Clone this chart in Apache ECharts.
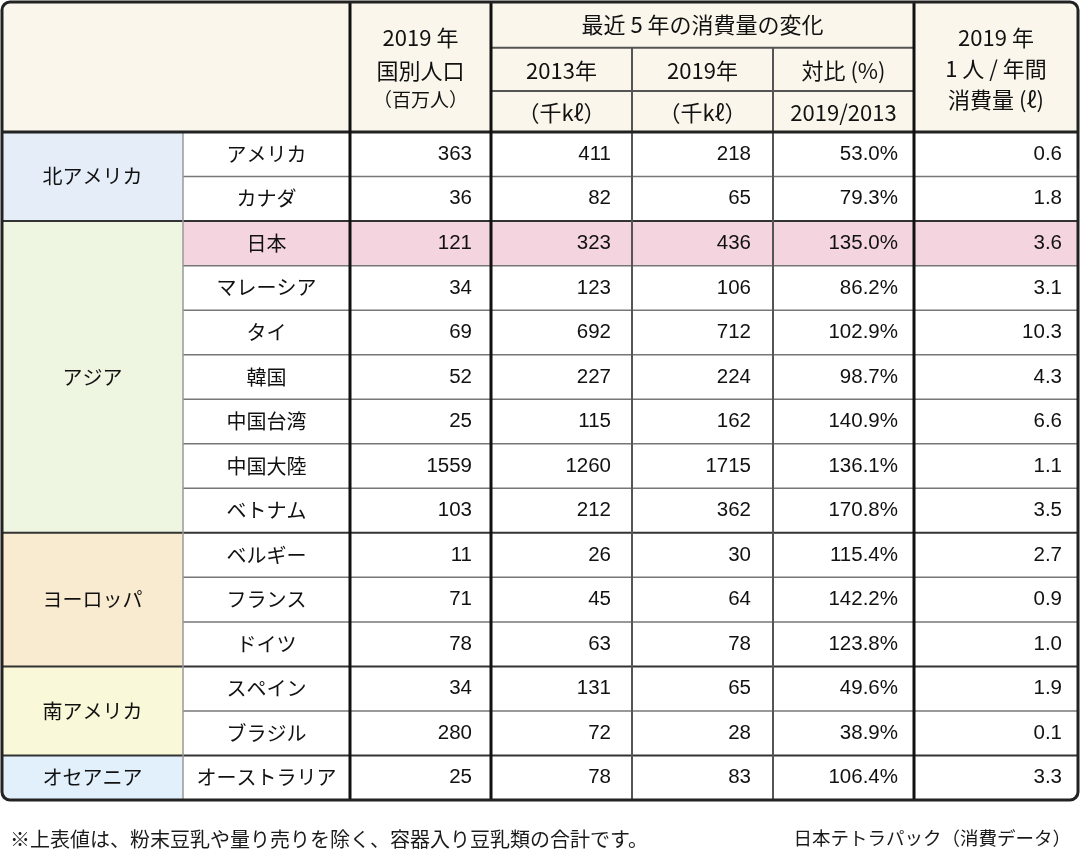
<!DOCTYPE html>
<html>
<head>
<meta charset="utf-8">
<script src="https://cdn.jsdelivr.net/npm/echarts@6/dist/echarts.min.js"></script>
<style>
html, body { margin: 0; background: #fff; }
#chart { width: 1080px; height: 856px; }
</style>
</head>
<body>
<div id="chart"></div>
<script>
// data
const regions = ['北アメリカ', 'アジア', 'ヨーロッパ', '南アメリカ', 'オセアニア']
const regionCounts = [2, 7, 3, 2, 1]
const countries = ['アメリカ', 'カナダ', '日本', 'マレーシア', 'タイ', '韓国', '中国台湾', '中国大陸', 'ベトナム', 'ベルギー', 'フランス', 'ドイツ', 'スペイン', 'ブラジル', 'オーストラリア']
const population = [363, 36, 121, 34, 69, 52, 25, 1559, 103, 11, 71, 78, 34, 280, 25]
const vol2013 = [411, 82, 323, 123, 692, 227, 115, 1260, 212, 26, 45, 63, 131, 72, 78]
const vol2019 = [218, 65, 436, 106, 712, 224, 162, 1715, 362, 30, 64, 78, 65, 28, 83]
const ratio = [53.0, 79.3, 135.0, 86.2, 102.9, 98.7, 140.9, 136.1, 170.8, 115.4, 142.2, 123.8, 49.6, 38.9, 106.4]
const perCapita = [0.6, 1.8, 3.6, 3.1, 10.3, 4.3, 6.6, 1.1, 3.5, 2.7, 0.9, 1.0, 1.9, 0.1, 3.3]
const highlight = '日本'
const headPop = ['2019 年', '国別人口', '（百万人）']
const headChange = '最近 5 年の消費量の変化'
const headYears = ['2013年', '2019年', '対比 (%)']
const headUnits = ['（千kℓ）', '（千kℓ）', '2019/2013']
const headPer = ['2019 年', '1 人 / 年間', '消費量 (ℓ)']
const noteLeft = '※上表値は、粉末豆乳や量り売りを除く、容器入り豆乳類の合計です。'
const noteRight = '日本テトラパック（消費データ）'

// layout / style
const colEdges = [0, 181, 348, 489, 630, 771, 912, 1076]
const headEdges = [0, 1.03, 2.0, 2.92]
const H = headEdges[3]
const yMax = H + countries.length
const regionColors = ['#e5edf9', '#eef5e1', '#f9ebcf', '#f9f8d9', '#e1f0fb']
const headFill = '#faf6eb'
const pink = '#f4d4df'
const jp = '"Noto Sans CJK JP", sans-serif'
const num = '"Liberation Sans", Arial, sans-serif'
const numPad = [19, 21, 22, 16, 16]

const cells = []
const addCell = (x0, y0, x1, y1, fill, lines, align, pad) =>
	cells.push({ x0, y0, x1, y1, fill, lines, align: align || 'center', pad: pad || 0 })
const L = (text, size, dy, font) => ({ text, size, dy, font: font || jp })

// header
addCell(colEdges[0], 0, colEdges[2], H, headFill, [])
addCell(colEdges[2], 0, colEdges[3], H, headFill, [L(headPop[0], 22, -29), L(headPop[1], 22, 4), L(headPop[2], 19, 33)])
addCell(colEdges[3], headEdges[0], colEdges[6], headEdges[1], headFill, [L(headChange, 22, 0)])
headYears.forEach((t, i) => {
	addCell(colEdges[3 + i], headEdges[1], colEdges[4 + i], headEdges[2], headFill, [L(t, 22, 1)])
	addCell(colEdges[3 + i], headEdges[2], colEdges[4 + i], headEdges[3], headFill, [L(headUnits[i], 22, 1)])
})
addCell(colEdges[6], 0, colEdges[7], H, headFill, [L(headPer[0], 22, -29), L(headPer[1], 22, 2), L(headPer[2], 22, 33)])

// regions
let r0 = H
const groupEnds = []
regions.forEach((name, i) => {
	addCell(colEdges[0], r0, colEdges[1], r0 + regionCounts[i], regionColors[i], [L(name, 20, 0)])
	r0 += regionCounts[i]
	groupEnds.push(r0)
})

// rows
const fmt = [(v) => String(v), (v) => String(v), (v) => String(v), (v) => v.toFixed(1) + '%', (v) => v.toFixed(1)]
const cols = [population, vol2013, vol2019, ratio, perCapita]
countries.forEach((c, i) => {
	const y0 = H + i
	const fill = c === highlight ? pink : '#ffffff'
	addCell(colEdges[1], y0, colEdges[2], y0 + 1, fill, [L(c, 20, 0)])
	cols.forEach((arr, k) => {
		addCell(colEdges[2 + k], y0, colEdges[3 + k], y0 + 1, fill, [L(fmt[k](arr[i]), 20.5, 0, num)], 'right', numPad[k])
	})
})

// grid lines
const rules = []
const rule = (x0, y0, x1, y1, color, width) => rules.push({ x0, y0, x1, y1, color, width })
for (let i = 1; i < countries.length; i++) {
	const y = H + i
	if (groupEnds.includes(y)) rule(colEdges[0], y, colEdges[7], y, '#333', 2)
	else rule(colEdges[1], y, colEdges[7], y, '#777', 1.5)
}
rule(colEdges[1], H, colEdges[1], yMax, '#999', 1.5)
rule(colEdges[4], headEdges[1], colEdges[4], yMax, '#555', 2)
rule(colEdges[5], headEdges[1], colEdges[5], yMax, '#555', 2)
rule(colEdges[3], headEdges[1], colEdges[6], headEdges[1], '#555', 2)
rule(colEdges[3], headEdges[2], colEdges[6], headEdges[2], '#555', 2)
rule(colEdges[0], H, colEdges[7], H, '#222', 3)
;[2, 3, 6].forEach((k) => rule(colEdges[k], 0, colEdges[k], yMax, '#111', 3))

const chart = echarts.init(document.getElementById('chart'))
chart.setOption({
	animation: false,
	title: [
		{ text: noteLeft, left: 5, top: 824, textStyle: { fontFamily: jp, fontSize: 20, fontWeight: 'normal', color: '#1a1a1a' } },
		{ text: noteRight, right: 4, top: 824, textStyle: { fontFamily: jp, fontSize: 18.5, fontWeight: 'normal', color: '#1a1a1a' } }
	],
	grid: { left: 2, top: 2, width: 1076, height: 798 },
	xAxis: { type: 'value', min: 0, max: colEdges[7], show: false },
	yAxis: { type: 'value', min: 0, max: yMax, inverse: true, show: false },
	series: [
		{
			type: 'custom',
			silent: true,
			clip: false,
			encode: { x: [0, 2], y: [1, 3] },
			data: cells.map((c) => [c.x0, c.y0, c.x1, c.y1]),
			renderItem(params, api) {
				const c = cells[params.dataIndex]
				const p0 = api.coord([c.x0, c.y0])
				const p1 = api.coord([c.x1, c.y1])
				const children = [{
					type: 'rect',
					shape: { x: p0[0], y: p0[1], width: p1[0] - p0[0], height: p1[1] - p0[1] },
					style: { fill: c.fill }
				}]
				const cy = (p0[1] + p1[1]) / 2
				c.lines.forEach((l) => {
					children.push({
						type: 'text',
						x: c.align === 'right' ? p1[0] - c.pad : (p0[0] + p1[0]) / 2,
						y: cy + l.dy,
						style: {
							text: l.text,
							font: l.size + 'px ' + l.font,
							fill: '#111',
							align: c.align,
							verticalAlign: 'middle'
						}
					})
				})
				return { type: 'group', children }
			}
		},
		{
			type: 'custom',
			silent: true,
			clip: false,
			encode: { x: [0, 2], y: [1, 3] },
			data: rules.map((r) => [r.x0, r.y0, r.x1, r.y1]),
			renderItem(params, api) {
				const r = rules[params.dataIndex]
				const p0 = api.coord([r.x0, r.y0])
				const p1 = api.coord([r.x1, r.y1])
				return {
					type: 'line',
					shape: { x1: p0[0], y1: p0[1], x2: p1[0], y2: p1[1] },
					style: { stroke: r.color, lineWidth: r.width }
				}
			}
		},
		{
			type: 'custom',
			silent: true,
			clip: false,
			encode: { x: [0, 2], y: [1, 3] },
			data: [[0, 0, colEdges[7], yMax]],
			renderItem(params, api) {
				const p0 = api.coord([api.value(0), api.value(1)])
				const p1 = api.coord([api.value(2), api.value(3)])
				return {
					type: 'rect',
					shape: { x: p0[0], y: p0[1], width: p1[0] - p0[0], height: p1[1] - p0[1], r: 8 },
					style: { fill: 'none', stroke: '#222', lineWidth: 3 }
				}
			}
		}
	]
})
</script>
</body>
</html>
